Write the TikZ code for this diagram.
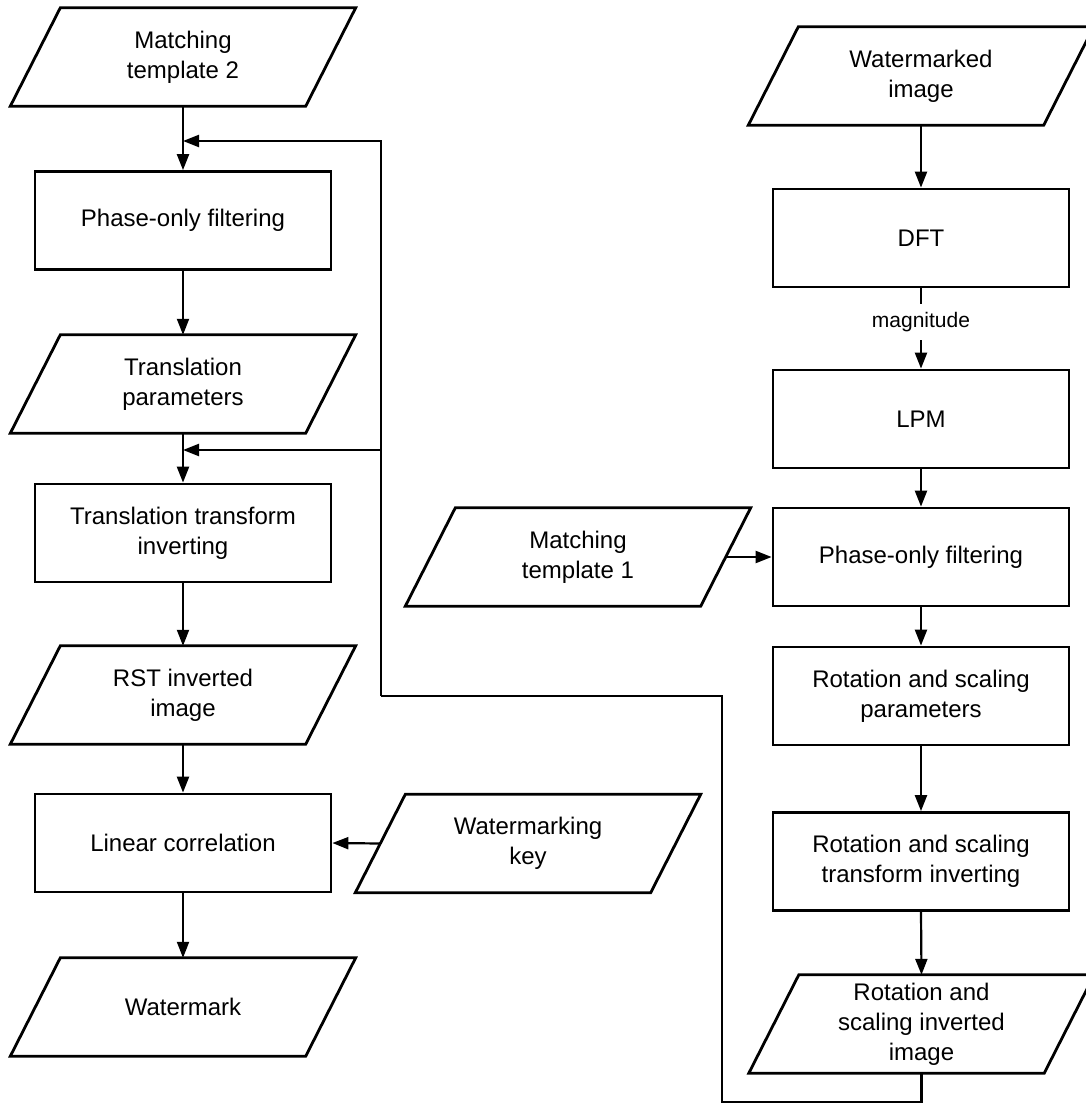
\documentclass[tikz,border=0pt]{standalone}
\usepackage{fontspec}
\setmainfont{Liberation Sans}
\usetikzlibrary{arrows.meta,calc}

\begin{document}
\begin{tikzpicture}[x=1pt,y=-1pt,
  every node/.style={font=\fontsize{24}{30}\selectfont, align=center, inner sep=0pt},
  procbox/.style={draw, line width=2.8pt, minimum width=296pt, minimum height=98pt},
  databox/.style={minimum width=295pt, minimum height=98pt},
  flow/.style={line width=2.2pt, -{Triangle[length=16pt,width=12pt]}},
  link/.style={line width=2.2pt},
  slantline/.style={line width=2.8pt, line join=miter},
  edgelabel/.style={font=\fontsize{21}{24}\selectfont, fill=white, inner xsep=4pt, inner ysep=8pt}]

\useasboundingbox (0,0) rectangle (1086,1104);
\fill[white] (0,0) rectangle (1086,1104);
\clip (0,0) rectangle (1086,1104);

% left column
\node[databox] (mt2)  at (183,57)    {Matching\\template 2};
\node[procbox] (pof1) at (183,220.5) {Phase-only filtering};
\node[databox] (tp)   at (183,384)   {Translation\\parameters};
\node[procbox] (tti)  at (183,533)   {Translation transform\\inverting};
\node[databox] (rst)  at (183,695)   {RST inverted\\image};
\node[procbox] (lc)   at (183,843)   {Linear correlation};
\node[databox] (wm)   at (183,1007)  {Watermark};
\node[databox] (key)  at (528,843.5) {Watermarking\\key};

% right column
\node[databox] (wimg) at (921,76)    {Watermarked\\image};
\node[procbox] (dft)  at (921,238)   {DFT};
\node[procbox] (lpm)  at (921,419)   {LPM};
\node[procbox] (pof2) at (921,557)   {Phase-only filtering};
\node[databox] (mt1)  at (578,557)   {Matching\\template 1};
\node[procbox] (rsp)  at (921,696)   {Rotation and scaling\\parameters};
\node[procbox] (rsti) at (921,861.5) {Rotation and scaling\\transform inverting};
\node[databox] (rsi)  at (921.5,1024){Rotation and\\scaling inverted\\image};

% slanted outlines of the data nodes
\foreach \n in {mt2,tp,rst,wm,key,wimg,mt1,rsi}
  \draw[slantline] ($(\n.north west)+(25,0)$) -- ($(\n.north east)+(25,0)$)
    -- ($(\n.south east)+(-25,0)$) -- ($(\n.south west)+(-25,0)$) -- cycle;

% junctions where the feedback enters the left column
\coordinate (j1) at (183,141);
\coordinate (j2) at (183,450);
\coordinate (tap) at (381,450);
\coordinate (fbA) at (722,1102);
\coordinate (fbB) at (381,696);

% left column flow
\draw[flow] (mt2.south) -- (pof1.north);
\draw[flow] (pof1.south) -- (tp.north);
\draw[flow] (tp.south) -- (tti.north);
\draw[flow] (tti.south) -- (rst.north);
\draw[flow] (rst.south) -- (lc.north);
\draw[flow] (lc.south) -- (wm.north);
\draw[flow] (key.west) -- (lc.east);

% right column flow
\draw[flow] (wimg.south) -- (dft.north);
\draw[flow] (dft.south) -- node[edgelabel, pos=0.42] {magnitude} (lpm.north);
\draw[flow] (lpm.south) -- (pof2.north);
\draw[flow] (mt1.east) -- (pof2.west);
\draw[flow] (pof2.south) -- (rsp.north);
\draw[flow] (rsp.south) -- (rsti.north);
\draw[flow] (rsti.south) -- (rsi.north);

% feedback of the inverted image
\draw[link] (rsi.south) |- (fbA) |- (fbB);
\draw[flow] (fbB) |- (j1);
\draw[flow] (tap) -- (j2);
\end{tikzpicture}
\end{document}
